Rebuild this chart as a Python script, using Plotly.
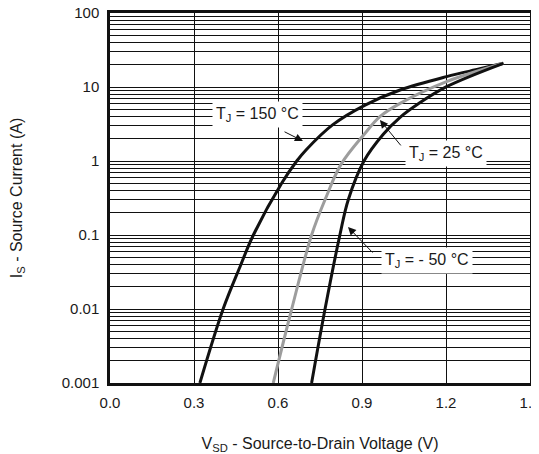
import math
import plotly.graph_objects as go

v_150 = [0.321, 0.404, 0.464, 0.512, 0.613, 0.667, 0.700, 0.796, 0.911, 1.036, 1.202, 1.321, 1.405]
i_150 = [0.001, 0.01, 0.037, 0.1, 0.5, 1.0, 1.41, 3.1, 5.7, 9.1, 13.8, 17.6, 20.9]

v_25 = [0.583, 0.649, 0.720, 0.768, 0.825, 0.911, 0.964, 1.036, 1.202, 1.405]
i_25 = [0.001, 0.01, 0.1, 0.30, 0.9, 2.37, 3.97, 6.0, 11.8, 20.9]

v_m50 = [0.720, 0.768, 0.821, 0.851, 0.907, 0.976, 1.036, 1.100, 1.202, 1.405]
i_m50 = [0.001, 0.01, 0.1, 0.30, 1.0, 2.3, 3.9, 5.9, 10.1, 20.9]

y_ticks = [0.001, 0.01, 0.1, 1, 10, 100]
y_ticktext = ["0.001", "0.01", "0.1", "1", "10", "100"]
x_ticks = [0.0, 0.3, 0.6, 0.9, 1.2, 1.5]

font = "Liberation Sans, Arial, sans-serif"
txt = "#1a1a1a"

fig = go.Figure()

fig.add_trace(go.Scatter(x=v_150, y=i_150, mode="lines", line=dict(color="#111111", width=3, shape="spline", smoothing=1), showlegend=False))
fig.add_trace(go.Scatter(x=v_25, y=i_25, mode="lines", line=dict(color="#9d9d9d", width=3, shape="spline", smoothing=1), showlegend=False))
fig.add_trace(go.Scatter(x=v_m50, y=i_m50, mode="lines", line=dict(color="#111111", width=3, shape="spline", smoothing=1), showlegend=False))

# minor grid: 2..9 in every decade
minor_vals = [m * 10 ** e for e in range(-3, 2) for m in range(2, 10)]

# labels (white boxes over the grid)
labels = [
    ("T<sub>J</sub> = 150 °C", 0.525, 4.19),
    ("T<sub>J</sub> = 25 °C", 1.20, 1.245),
    ("T<sub>J</sub> = - 50 °C", 1.132, 0.0446),
]
for text, lx, ly in labels:
    fig.add_annotation(x=lx, y=math.log10(ly), text=text, showarrow=False,
                       bgcolor="white", borderpad=3,
                       font=dict(family=font, size=16, color=txt))

# arrows: (tip x, tip y, tail x, tail y)
arrows = [
    (0.689, 1.86, 0.618, 2.54),
    (0.964, 3.58, 1.043, 1.55),
    (0.85, 0.128, 0.943, 0.0553),
]
for tx, ty, ax_, ay_ in arrows:
    fig.add_annotation(x=tx, y=math.log10(ty), ax=ax_, ay=math.log10(ay_),
                       xref="x", yref="y", axref="x", ayref="y",
                       text="", showarrow=True, arrowhead=2, arrowsize=1.6,
                       arrowwidth=1, arrowcolor="#111111")

fig.update_xaxes(range=[0, 1.5], tickvals=x_ticks, tickformat=".1f",
                 showgrid=True, gridcolor="#111111", gridwidth=1.3,
                 showline=True, linecolor="#111111", linewidth=2.5, mirror=True,
                 zeroline=False, ticks="", ticklabelstandoff=4, automargin=False,
                 ticklabeloverflow="allow",
                 tickfont=dict(family=font, size=15, color=txt),
                 title=dict(text="V<sub>SD</sub> - Source-to-Drain Voltage (V)", standoff=29,
                            font=dict(family=font, size=16, color=txt)))

fig.update_yaxes(type="log", range=[-3, 2], tickvals=y_ticks, ticktext=y_ticktext,
                 showgrid=True, gridcolor="#111111", gridwidth=1.3,
                 minor=dict(tickvals=minor_vals, showgrid=True, gridcolor="#111111", gridwidth=1.1, ticks=""),
                 showline=True, linecolor="#111111", linewidth=2.5, mirror=True,
                 zeroline=False, ticks="", ticklabelstandoff=5, automargin=False,
                 ticklabeloverflow="allow",
                 tickfont=dict(family=font, size=15, color=txt),
                 title=dict(text="I<sub>S</sub> - Source Current (A)", standoff=36,
                            font=dict(family=font, size=16, color=txt)))

# page body has an 8px margin, so the figure is a bit smaller than the window
fig.update_layout(width=531, height=446, margin=dict(l=102, r=9, t=5, b=71),
                  plot_bgcolor="white", paper_bgcolor="white")

fig.write_html("out.html")
